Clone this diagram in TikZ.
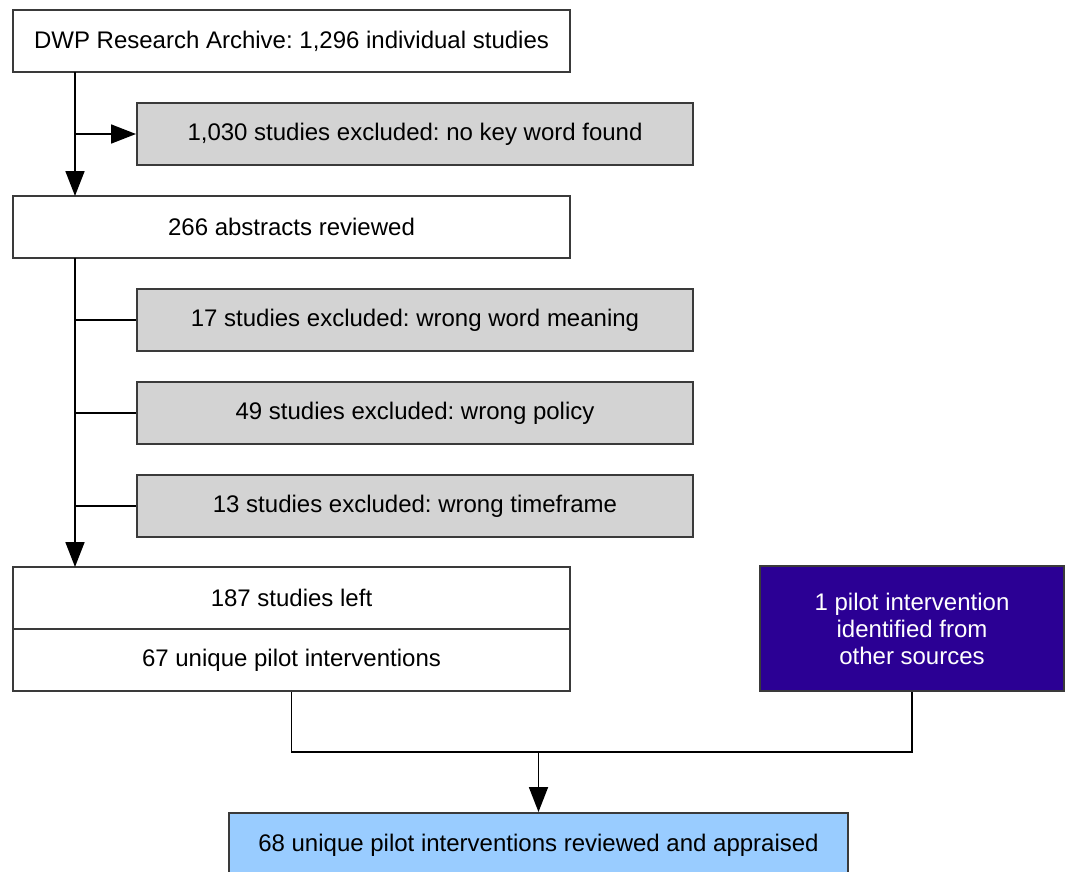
\documentclass[tikz,border=0pt]{standalone}
\usepackage{fontspec}
\setmainfont{Liberation Sans}
\usetikzlibrary{arrows.meta}
\definecolor{boxgray}{HTML}{D3D3D3}
\definecolor{indigo}{HTML}{2B0094}
\definecolor{lightblue}{HTML}{99CCFF}
\definecolor{edgegray}{HTML}{3A3A3A}
\frenchspacing
\tikzset{
  basebox/.style={draw=edgegray, line width=2pt, rectangle, inner sep=0pt, align=center, font=\fontsize{24}{27}\selectfont},
  whitebox/.style={basebox, fill=white, minimum width=557pt, minimum height=62pt},
  graybox/.style={basebox, fill=boxgray, minimum width=556pt, minimum height=62pt},
  conn/.style={draw=black, line width=1.8pt},
  arr/.style={conn, -{Triangle[length=25pt,width=19pt]}}
}
\begin{document}
\begin{tikzpicture}[x=1pt,y=-1pt]
\useasboundingbox (0,0) rectangle (1068,871);
\begin{scope}
\clip (0,0) rectangle (1068,871);
\node[whitebox] (b1) at (291.5,41) {DWP Research Archive: 1,296 individual studies};
\node[graybox] (e1) at (415,134) {1,030 studies excluded: no key word found};
\node[whitebox] (b2) at (291.5,227) {266 abstracts reviewed};
\node[graybox] (e2) at (415,320) {17 studies excluded: wrong word meaning};
\node[graybox] (e3) at (415,413) {49 studies excluded: wrong policy};
\node[graybox] (e4) at (415,506) {13 studies excluded: wrong timeframe};
\node[whitebox] (b3) at (291.5,598) {187 studies left};
\node[whitebox] (b4) at (291.5,660) {67 unique pilot interventions};
\node[basebox, fill=indigo, text=white, minimum width=304pt, minimum height=125pt,
      font=\fontsize{24}{27}\selectfont] (bl) at (912,628.5) {1 pilot intervention\\identified from\\other sources};
\node[basebox, fill=lightblue, minimum width=619pt, minimum height=64pt] (fin) at (538.5,845) {68 unique pilot interventions reviewed and appraised};

\coordinate (s1) at (75,72);
\coordinate (j1) at (75,134);
\coordinate (t1) at (75,196);
\draw[arr] (s1) -- (t1);
\draw[arr] (j1) -- (e1.west);

\coordinate (s2) at (75,258);
\coordinate (t2) at (75,567);
\draw[arr] (s2) -- (t2);
\draw[conn] (75,320) -- (e2.west);
\draw[conn] (75,413) -- (e3.west);
\draw[conn] (75,506) -- (e4.west);

\coordinate (m) at (538.5,752);
\draw[conn] (b4.south) |- (m) -| (bl.south);
\draw[arr] (m) -- (fin.north);
\end{scope}
\end{tikzpicture}
\end{document}
